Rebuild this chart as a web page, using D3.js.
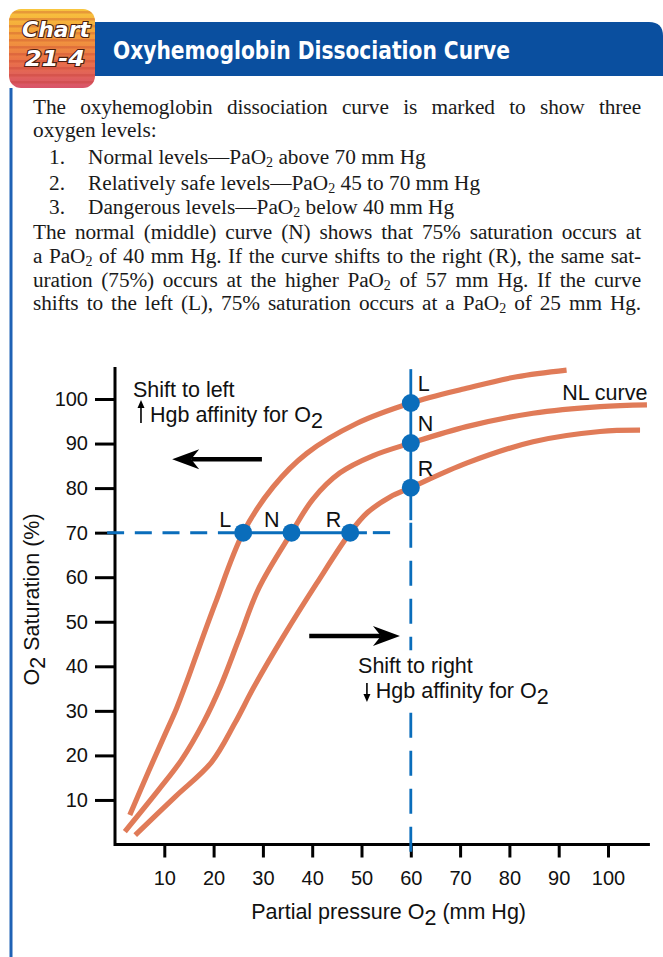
<!DOCTYPE html>
<html><head><meta charset="utf-8">
<script src="https://cdn.jsdelivr.net/npm/d3@7"></script>
<style>
body{margin:0;background:#fff;width:663px;height:957px;overflow:hidden;position:relative;}
#chart{position:absolute;left:0;top:0}
.ln{position:absolute;font-family:"Liberation Serif","Times New Roman",serif;font-size:21.3px;line-height:20px;color:#1a1a1a;white-space:nowrap;}
.j{text-align:justify;text-align-last:justify;white-space:normal;letter-spacing:-0.1px;}
.ln sub{font-size:0.66em;vertical-align:-0.22em;line-height:0;}
</style></head><body>
<svg id="chart" width="663" height="957"></svg>
<div id="body"></div>
<script>
// ---------- data ----------
const xTicks = [10,20,30,40,50,60,70,80,90,100];
const yTicks = [10,20,30,40,50,60,70,80,90,100];
// Left-shifted curve (L)
const curveL = [[3.0,6.6],[6.8,16.4],[10.1,24.6],[12.5,30.6],[14.5,36.4],[16.2,41.6],[20.3,54.0],[26.0,70.0],[32.1,80.3],[38.9,87.8],[49.0,94.5],[60.0,99.1],[71.3,102.4],[81.5,105.0],[91.6,106.5]];
// Normal curve (N)
const curveN = [[2.0,2.9],[8.8,12.2],[13.5,19.0],[17.9,27.3],[21.4,35.5],[25.1,46.0],[29.2,57.6],[35.8,70.0],[40.2,77.6],[45.6,83.4],[52.4,87.3],[60.0,90.1],[71.3,93.8],[84.8,96.8],[98.4,98.3],[107.9,98.7]];
// Right-shifted curve (R)
const curveR = [[4.1,2.1],[12.2,10.7],[19.6,18.5],[24.3,27.2],[28.2,35.4],[34.1,46.6],[40.9,58.6],[47.7,70.0],[51.1,74.4],[55.8,78.0],[60.0,80.1],[71.3,85.6],[84.8,90.4],[98.4,92.7],[106.5,93.0]];
// markers on the 70% line and on the 60 mm Hg line
const markersH = [{c:"L",x:26.0,y:70},{c:"N",x:35.8,y:70},{c:"R",x:47.7,y:70}];
const markersV = [{c:"L",x:60,y:99.1},{c:"N",x:60,y:90.1},{c:"R",x:60,y:80.1}];
const refY = 70, refX = 60;

const titleText = "Oxyhemoglobin Dissociation Curve";
const badgeText = ["Chart","21-4"];
const bodyLines = [
 {t:"The oxyhemoglobin dissociation curve is marked to show three", j:true},
 {t:"oxygen levels:"},
 {n:"1.", t:"Normal levels—PaO<sub>2</sub> above 70 mm Hg"},
 {n:"2.", t:"Relatively safe levels—PaO<sub>2</sub> 45 to 70 mm Hg"},
 {n:"3.", t:"Dangerous levels—PaO<sub>2</sub> below 40 mm Hg"},
 {t:"The normal (middle) curve (N) shows that 75% saturation occurs at", j:true},
 {t:"a PaO<sub>2</sub> of 40 mm Hg. If the curve shifts to the right (R), the same sat-", j:true},
 {t:"uration (75%) occurs at the higher PaO<sub>2</sub> of 57 mm Hg. If the curve", j:true},
 {t:"shifts to the left (L), 75% saturation occurs at a PaO<sub>2</sub> of 25 mm Hg.", j:true}
];
const bodyBaselines = [114,137,164,190,214,239,263,287,310];

// ---------- layout ----------
const svg = d3.select("#chart");
const x = d3.scaleLinear().domain([0,100]).range([115,608]);
const y = d3.scaleLinear().domain([0,100]).range([844.5,399]);
const ORANGE = "#E07B58", BLUE = "#0A6DBB";
const sans = "'Liberation Sans', Arial, Helvetica, sans-serif";
const FS = 21.5;

// ---------- header ----------
const defs = svg.append("defs");
const g1 = defs.append("linearGradient").attr("id","bg").attr("x1",0).attr("y1",0).attr("x2",0).attr("y2",1);
[["0","#f8c63e"],["0.3","#f4a23a"],["0.65","#ea7247"],["1","#d8536a"]].forEach(s=>g1.append("stop").attr("offset",s[0]).attr("stop-color",s[1]));
const pat = defs.append("pattern").attr("id","stripes").attr("width",10).attr("height",7).attr("patternUnits","userSpaceOnUse");
pat.append("rect").attr("y",4).attr("width",10).attr("height",2.5).attr("fill","#b8332a").attr("opacity",0.28);

svg.append("line").attr("x1",11).attr("x2",11).attr("y1",88).attr("y2",957).attr("stroke","#1f62b5").attr("stroke-width",3);
svg.append("path").attr("d","M70,22 H649 Q663,22 663,36 V76 H70 Z").attr("fill","#0a4f9f");
svg.append("text").attr("x",113).attr("y",59).text(titleText)
  .attr("fill","#fff").attr("font-family","'Liberation Sans Narrow','DejaVu Sans Condensed','Roboto Condensed','Liberation Sans',sans-serif")
  .attr("font-weight","bold").attr("font-size",25).attr("textLength",397).attr("lengthAdjust","spacingAndGlyphs");
svg.append("rect").attr("x",9).attr("y",9).attr("width",86).attr("height",79).attr("rx",12).attr("fill","url(#bg)");
svg.append("rect").attr("x",9).attr("y",9).attr("width",86).attr("height",79).attr("rx",12).attr("fill","url(#stripes)");
svg.selectAll("text.badge").data(badgeText).enter().append("text").attr("class","badge")
  .attr("x",(d,i)=>i?55:56).attr("y",(d,i)=>i?66:37).attr("text-anchor","middle").text(d=>d)
  .attr("font-family","'DejaVu Sans',sans-serif").attr("font-style","italic").attr("font-weight","bold")
  .attr("font-size",22).attr("fill","#fff").attr("stroke","#4a1e10").attr("stroke-width",2.2).attr("paint-order","stroke")
  .attr("textLength",(d,i)=>i?60:68).attr("lengthAdjust","spacingAndGlyphs");

// ---------- body text ----------
const body = d3.select("#body");
bodyLines.forEach((l,i)=>{
  const top = bodyBaselines[i]-17.5;
  if (l.n) {
    body.append("div").attr("class","ln").style("left","49px").style("top",top+"px").text(l.n);
    body.append("div").attr("class","ln").style("left","88px").style("top",top+"px").html(l.t);
  } else {
    body.append("div").attr("class","ln"+(l.j?" j":"")).style("left","33px").style("width","608px").style("top",top+"px").html(l.t);
  }
});

// ---------- chart ----------
const chart = svg.append("g");
chart.append("path").attr("d",`M${x(0)},${y(107.2)} V${y(0)} H${x(108.5)}`).attr("fill","none").attr("stroke","#000").attr("stroke-width",3);
const ya = chart.append("g").attr("transform",`translate(${x(0)},0)`).call(d3.axisLeft(y).tickValues(yTicks).tickSize(20).tickPadding(7));
const xa = chart.append("g").attr("transform",`translate(0,${y(0)})`).call(d3.axisBottom(x).tickValues(xTicks).tickSize(13).tickPadding(13));
[ya,xa].forEach(a=>{
  a.select(".domain").remove();
  a.selectAll(".tick line").attr("stroke","#000").attr("stroke-width",3);
  a.selectAll(".tick text").attr("font-family",sans).attr("font-size",20).attr("fill","#111");
});

// reference lines
const hs = [[-1.6,26.0,true],[26.0,51.1,false],[52.3,55.8,false]];
hs.forEach(s=>chart.append("line").attr("x1",x(s[0])).attr("x2",x(s[1])).attr("y1",y(refY)).attr("y2",y(refY))
  .attr("stroke",BLUE).attr("stroke-width",3).attr("stroke-dasharray",s[2]?"17,10.7":null));
chart.append("line").attr("x1",x(refX)).attr("x2",x(refX)).attr("y1",y(106.7)).attr("y2",y(72.8)).attr("stroke",BLUE).attr("stroke-width",2.8);
chart.append("line").attr("x1",x(refX)).attr("x2",x(refX)).attr("y1",y(72.2)).attr("y2",y(-2.4)).attr("stroke",BLUE).attr("stroke-width",2.8).attr("stroke-dasharray","25,13");

// curves
const line = d3.line().x(d=>x(d[0])).y(d=>y(d[1])).curve(d3.curveCatmullRom.alpha(0.5));
[curveL,curveN,curveR].forEach(c=>chart.append("path").attr("d",line(c)).attr("fill","none").attr("stroke",ORANGE).attr("stroke-width",5.2));

// markers
chart.selectAll("circle.m").data(markersH.concat(markersV)).enter().append("circle").attr("class","m")
  .attr("cx",d=>x(d.x)).attr("cy",d=>y(d.y)).attr("r",9).attr("fill",BLUE);
chart.selectAll("text.mh").data(markersH).enter().append("text").attr("class","mh")
  .attr("x",d=>x(d.x)-(d.c==="R"?9:12)).attr("y",y(refY)-6).attr("text-anchor","end").text(d=>d.c)
  .attr("font-family",sans).attr("font-size",FS).attr("fill","#111");
chart.selectAll("text.mv").data(markersV).enter().append("text").attr("class","mv")
  .attr("x",x(refX)+7).attr("y",d=>y(d.y)-12).text(d=>d.c)
  .attr("font-family",sans).attr("font-size",FS).attr("fill","#111");
chart.append("text").attr("x",x(90.7)).attr("y",y(99.8)).text("NL curve").attr("font-family",sans).attr("font-size",FS).attr("fill","#111");

// arrows
function bigArrow(x0,x1,yy){
  const dir = Math.sign(x1-x0), L=27, h=10, n=19;
  chart.append("line").attr("x1",x0).attr("x2",x1-dir*n).attr("y1",yy).attr("y2",yy).attr("stroke","#000").attr("stroke-width",4.5);
  chart.append("path").attr("d",`M${x1},${yy} L${x1-dir*L},${yy-h} L${x1-dir*n},${yy} L${x1-dir*L},${yy+h} Z`).attr("fill","#000");
}
bigArrow(x(29.8),x(11.6),y(86.5));
bigArrow(x(39.4),x(57.8),y(46.8));
function smallArrow(xx,ya0,ya1){
  const d = Math.sign(ya1-ya0);
  chart.append("line").attr("x1",xx).attr("x2",xx).attr("y1",ya0).attr("y2",ya1-d*4).attr("stroke","#000").attr("stroke-width",1.6);
  chart.append("path").attr("d",`M${xx},${ya1} L${xx-3.5},${ya1-d*8} L${xx+3.5},${ya1-d*8} Z`).attr("fill","#000");
}
chart.append("rect").attr("x",x(49)).attr("y",y(43.6)).attr("width",200).attr("height",y(31.8)-y(43.6)).attr("fill","#fff");
function annot(xx,yy,str){ chart.append("text").attr("x",xx).attr("y",yy).text(str).attr("font-family",sans).attr("font-size",FS).attr("fill","#111"); }
function hgb(xx,yy){
  const t = chart.append("text").attr("x",xx).attr("y",yy).attr("font-family",sans).attr("font-size",FS).attr("fill","#111");
  t.append("tspan").text("Hgb affinity for O");
  t.append("tspan").attr("dy",6).text("2");
}
annot(x(3.65),y(100.5),"Shift to left");
smallArrow(x(5.27),y(94.6),y(99.8));
hgb(x(7.1),y(94.9));
annot(x(49.3),y(38.5),"Shift to right");
smallArrow(x(51.1),y(36.25),y(32.0));
hgb(x(52.9),y(32.9));

// axis titles
const xt = chart.append("text").attr("x",x(55.5)).attr("y",919).attr("text-anchor","middle").attr("font-family",sans).attr("font-size",FS).attr("fill","#111");
xt.append("tspan").text("Partial pressure O");
xt.append("tspan").attr("dy",6).text("2");
xt.append("tspan").attr("dy",-6).text(" (mm Hg)");
const yt = chart.append("text").attr("transform",`translate(39,${y(55)}) rotate(-90)`).attr("text-anchor","middle").attr("font-family",sans).attr("font-size",FS).attr("fill","#111");
yt.append("tspan").text("O");
yt.append("tspan").attr("dy",6).text("2");
yt.append("tspan").attr("dy",-6).text(" Saturation (%)");
</script>
</body></html>
